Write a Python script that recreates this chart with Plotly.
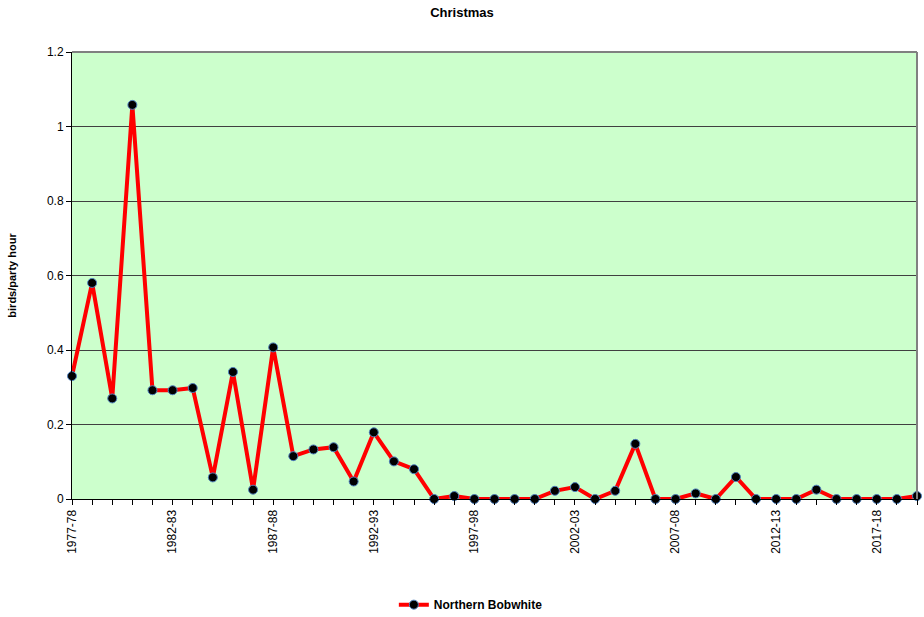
import plotly.graph_objects as go

seasons = [f"{y}-{str(y + 1)[-2:]}" for y in range(1977, 2020)]
birds_per_party_hour = [
    0.33, 0.58, 0.27, 1.058, 0.292, 0.292, 0.298, 0.058, 0.341, 0.025,
    0.407, 0.115, 0.133, 0.139, 0.047, 0.179, 0.101, 0.080, 0.0, 0.008,
    0.0, 0.0, 0.0, 0.0, 0.022, 0.032, 0.0, 0.022, 0.148, 0.0,
    0.0, 0.015, 0.0, 0.059, 0.0, 0.0, 0.0, 0.025, 0.0, 0.0,
    0.0, 0.0, 0.008,
]
series_name = "Northern Bobwhite"
title_text = "Christmas"
y_title = "birds/party hour"
y_ticks = [0, 0.2, 0.4, 0.6, 0.8, 1, 1.2]

tick_text = [s if i % 5 == 0 else "" for i, s in enumerate(seasons)]

fig = go.Figure()
fig.add_trace(go.Scatter(
    x=seasons, y=birds_per_party_hour, mode="lines+markers", name=f"<b>{series_name}</b>",
    line=dict(color="#FF0000", width=4),
    marker=dict(color="#000000", size=9, line=dict(color="#4F81BD", width=1)),
    cliponaxis=False,
))

fig.update_layout(
    width=924, height=617,
    margin=dict(l=72, r=7, t=52, b=118, autoexpand=False),
    paper_bgcolor="white", plot_bgcolor="#CCFFCC",
    font=dict(family="Liberation Sans, Arial", size=12, color="black"),
    title=dict(text=f"<b>{title_text}</b>", x=0.5, xanchor="center", y=0.98, yanchor="middle",
               font=dict(size=13)),
    showlegend=True,
    legend=dict(orientation="h", x=0.472, xanchor="center", yref="container", y=0.02,
                yanchor="middle", font=dict(size=12), itemwidth=30),
    shapes=[
        dict(type="line", xref="paper", yref="paper", x0=0, x1=1, y0=1, y1=1,
             line=dict(color="#808080", width=2)),
        dict(type="line", xref="paper", yref="paper", x0=1, x1=1, y0=0, y1=1,
             line=dict(color="#808080", width=2)),
    ],
)
fig.update_xaxes(
    type="category", range=[0, len(seasons) - 1],
    tickmode="array", tickvals=seasons, ticktext=tick_text,
    tickangle=-90, ticks="outside", ticklen=5, tickcolor="black",
    showline=True, linecolor="black", linewidth=1, showgrid=False,
    tickfont=dict(size=12),
)
fig.update_yaxes(
    range=[0, 1.2], tickmode="array", tickvals=y_ticks,
    ticktext=[f"{v:g}" for v in y_ticks],
    ticks="outside", ticklen=5, tickcolor="black",
    showline=True, linecolor="black", linewidth=1,
    showgrid=True, gridcolor="#404040", gridwidth=1, zeroline=False,
    title=dict(text=f"<b>{y_title}</b>", font=dict(size=11), standoff=28),
    tickfont=dict(size=12),
)

fig.write_html("out.html")
